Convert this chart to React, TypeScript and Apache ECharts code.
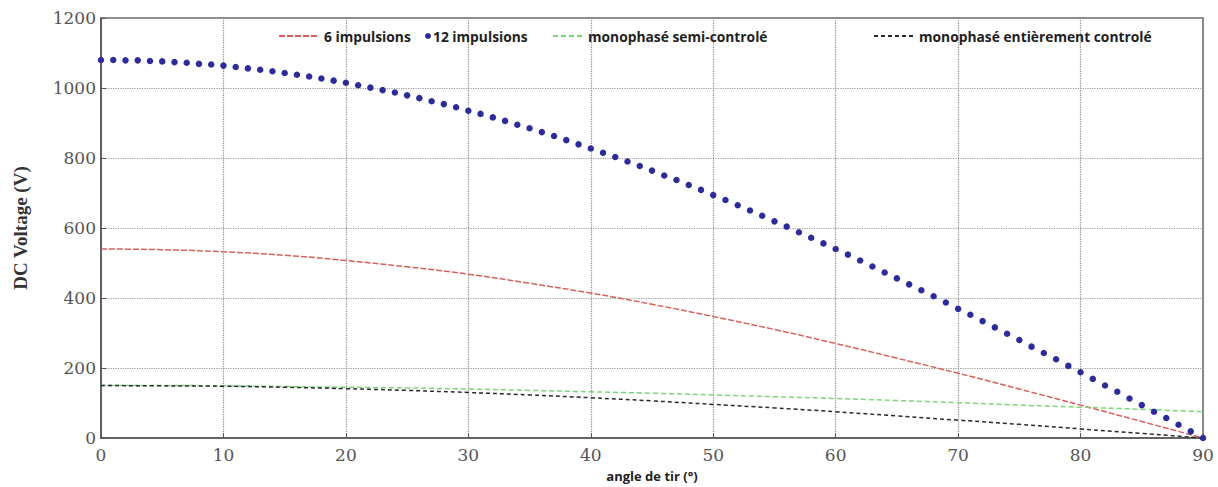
import React, { useEffect, useRef } from "react";
import * as echarts from "echarts";

// Firing angle (degrees) sampled every degree for the 12-pulse bridge
const anglesFine = [
  0, 1, 2, 3, 4, 5, 6, 7, 8, 9, 10, 11, 12, 13, 14, 15, 16, 17, 18, 19, 20,
  21, 22, 23, 24, 25, 26, 27, 28, 29, 30, 31, 32, 33, 34, 35, 36, 37, 38, 39, 40,
  41, 42, 43, 44, 45, 46, 47, 48, 49, 50, 51, 52, 53, 54, 55, 56, 57, 58, 59, 60,
  61, 62, 63, 64, 65, 66, 67, 68, 69, 70, 71, 72, 73, 74, 75, 76, 77, 78, 79, 80,
  81, 82, 83, 84, 85, 86, 87, 88, 89, 90,
];

// DC voltage of the 12-pulse converter (V)
const pulse12 = [
  1080, 1080, 1079, 1079, 1077, 1076, 1074, 1072, 1069, 1067, 1064,
  1060, 1056, 1052, 1048, 1043, 1038, 1033, 1027, 1021, 1015,
  1008, 1001, 994, 987, 979, 971, 962, 954, 945, 935,
  926, 916, 906, 895, 885, 874, 863, 851, 839, 827,
  815, 803, 790, 777, 764, 750, 737, 723, 709, 694,
  680, 665, 650, 635, 619, 604, 588, 572, 556, 540,
  524, 507, 490, 473, 456, 439, 422, 405, 387, 369,
  352, 334, 316, 298, 280, 261, 243, 225, 206, 188,
  169, 150, 132, 113, 94, 75, 57, 38, 19, 0,
];

// Firing angle (degrees) every 5 degrees for the other converters
const anglesCoarse = [0, 5, 10, 15, 20, 25, 30, 35, 40, 45, 50, 55, 60, 65, 70, 75, 80, 85, 90];

// 6-pulse bridge (V)
const pulse6 = [540, 538, 532, 522, 507, 489, 468, 442, 414, 382, 347, 310, 270, 228, 185, 140, 94, 47, 0];

// Single-phase half-controlled bridge (V)
const semiControlled = [150, 150, 149, 147, 145, 143, 140, 136, 132, 128, 123, 118, 113, 107, 101, 94, 88, 82, 75];

// Single-phase fully controlled bridge (V)
const fullyControlled = [150, 149, 148, 145, 141, 136, 130, 123, 115, 106, 96, 86, 75, 63, 51, 39, 26, 13, 0];

const seriesNames = [
  "6 impulsions",
  "12 impulsions",
  "monophasé semi-controlé",
  "monophasé entièrement controlé",
];

const pair = (xs: number[], ys: number[]) => xs.map((x, i) => [x, ys[i]]);

const legendText = {
  fontFamily: "Open Sans",
  fontWeight: "bold" as const,
  fontSize: 13.8,
  color: "#1e1e1e",
};

// Line-only legend entry (no symbol drawn on the swatch)
const lineLegend = (name: string, left: number, width: number) => ({
  data: [name],
  left,
  top: 29,
  padding: 0,
  itemWidth: width,
  itemHeight: 14,
  itemStyle: { opacity: 0 },
  textStyle: legendText,
});

export default function App() {
  const ref = useRef<HTMLDivElement>(null);

  useEffect(() => {
    if (!ref.current) return;
    const chart = echarts.init(ref.current, undefined, { renderer: "svg" });
    chart.setOption({
      animation: false,
      backgroundColor: "#ffffff",
      grid: {
        left: 101,
        right: 15,
        top: 18,
        bottom: 45,
        show: true,
        borderColor: "#666",
        borderWidth: 1.5,
        backgroundColor: "transparent",
      },
      legend: [
        lineLegend(seriesNames[0], 278, 40),
        {
          data: [{ name: seriesNames[1], icon: "circle" }],
          left: 425,
          top: 29,
          padding: 0,
          itemWidth: 6,
          itemHeight: 14,
          textStyle: { ...legendText, padding: [0, 0, 0, -3] },
        },
        lineLegend(seriesNames[2], 552, 30),
        lineLegend(seriesNames[3], 873, 40),
      ],
      xAxis: {
        type: "value",
        min: 0,
        max: 90,
        interval: 10,
        name: "angle de tir (°)",
        nameLocation: "middle",
        nameGap: 31,
        nameTextStyle: {
          fontFamily: "Open Sans",
          fontWeight: "bold",
          fontSize: 13,
          color: "#222",
        },
        axisLine: { lineStyle: { color: "#555", width: 1.5 } },
        axisTick: { inside: true, length: 5, lineStyle: { color: "#555" } },
        axisLabel: {
          fontFamily: "DejaVu Serif",
          fontSize: 17,
          color: "#555",
          margin: 8,
        },
        splitLine: { show: true, lineStyle: { type: "dotted", color: "#8a8a8a", width: 1.2 } },
      },
      yAxis: {
        type: "value",
        min: 0,
        max: 1200,
        interval: 200,
        name: "DC Voltage (V)",
        nameLocation: "middle",
        nameGap: 71,
        nameTextStyle: {
          fontFamily: "Liberation Serif",
          fontWeight: "bold",
          fontSize: 19,
          color: "#333",
        },
        axisLine: { show: true, lineStyle: { color: "#555", width: 1.5 } },
        axisTick: { show: true, inside: true, length: 5, lineStyle: { color: "#555" } },
        axisLabel: {
          fontFamily: "DejaVu Serif",
          fontSize: 17,
          color: "#555",
          margin: 5,
          formatter: (v: number) => String(v),
        },
        splitLine: { show: true, lineStyle: { type: "dotted", color: "#9a9a9a", width: 1.2 } },
      },
      series: [
        {
          name: seriesNames[0],
          type: "line",
          data: pair(anglesCoarse, pulse6),
          smooth: true,
          symbol: "none",
          color: "#d9605c",
          lineStyle: { color: "#d9605c", width: 1.5, type: [6, 2] },
          z: 2,
        },
        {
          name: seriesNames[1],
          type: "line",
          data: pair(anglesFine, pulse12),
          symbol: "circle",
          symbolSize: 6.5,
          showSymbol: true,
          color: "#2b2b9a",
          itemStyle: { color: "#2b2b9a" },
          lineStyle: { width: 0, opacity: 0 },
          z: 5,
        },
        {
          name: seriesNames[2],
          type: "line",
          data: pair(anglesCoarse, semiControlled),
          smooth: true,
          symbol: "none",
          color: "#72dc72",
          lineStyle: { color: "#72dc72", width: 1.5, type: [5, 3] },
          z: 3,
        },
        {
          name: seriesNames[3],
          type: "line",
          data: pair(anglesCoarse, fullyControlled),
          smooth: true,
          symbol: "none",
          color: "#2a2a2a",
          lineStyle: { color: "#2a2a2a", width: 1.5, type: [4, 3] },
          z: 4,
        },
      ],
    });
    return () => chart.dispose();
  }, []);

  return (
    <div
      ref={ref}
      style={{ position: "fixed", left: 0, top: 0, width: 1218, height: 487 }}
    />
  );
}
